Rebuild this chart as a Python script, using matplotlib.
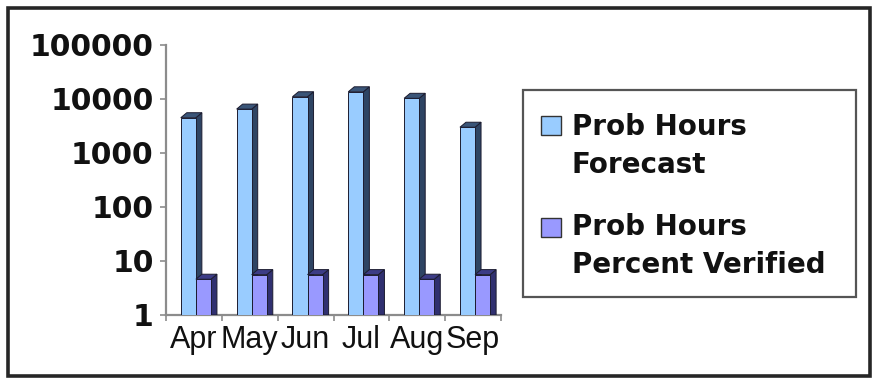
import matplotlib
matplotlib.use("Agg")
import matplotlib.pyplot as plt
import numpy as np
from matplotlib.patches import Polygon, Rectangle
from matplotlib.transforms import IdentityTransform

# ---- data ----
months = ["Apr", "May", "Jun", "Jul", "Aug", "Sep"]
forecast = [4500, 6500, 11000, 13600, 10300, 3000]
verified = [3.6, 4.6, 4.6, 4.6, 3.6, 4.6]
series_labels = ["Prob Hours\nForecast", "Prob Hours\nPercent Verified"]
ytick_values = [1, 10, 100, 1000, 10000, 100000]
ytick_labels = ["1", "10", "100", "1000", "10000", "100000"]

W, H = 874, 381
fig = plt.figure(figsize=(W / 100, H / 100), dpi=100)
fig.patch.set_facecolor("white")

# outer frame
fig.add_artist(Rectangle((8 / W, 1 - 376 / H), 862 / W, 368 / H,
                         transform=fig.transFigure, fill=False,
                         edgecolor="#262626", linewidth=2.6))

ax = fig.add_axes([166 / W, 1 - 315 / H, 335 / W, 270 / H])
ax.set_yscale("log")
ax.set_ylim(1, 1e5)
ax.set_xlim(0, len(months))
ax.patch.set_alpha(0)

for s in ["top", "right"]:
    ax.spines[s].set_visible(False)
for s in ["left", "bottom"]:
    ax.spines[s].set_color("#8c8c8c")
    ax.spines[s].set_linewidth(1.6)

ax.yaxis.set_major_locator(matplotlib.ticker.FixedLocator(ytick_values))
ax.yaxis.set_minor_locator(matplotlib.ticker.NullLocator())
ax.set_yticklabels(ytick_labels, fontsize=21.5, fontweight="bold",
                   family="DejaVu Sans", color="#111111")
ax.tick_params(axis="y", which="major", length=4, width=1.2,
               color="#8c8c8c", pad=5)

x = np.arange(len(months))
ax.set_xticks(np.arange(len(months) + 1))
ax.set_xticklabels([])
ax.set_xticks(x + 0.5, minor=True)
ax.set_xticklabels(months, minor=True, fontsize=22, family="Liberation Sans",
                   color="#111111")
ax.tick_params(axis="x", which="major", length=4, width=1.2,
               color="#8c8c8c", direction="out")
ax.tick_params(axis="x", which="minor", length=0, pad=7)

bw = 0.27
front_cols = ["#99CCFF", "#9999FF"]
side_cols = ["#2E4463", "#303070"]
top_cols = ["#3A5578", "#3C3C86"]
edge = "#1c1c30"
offs = [0.40, 0.67]

fig.canvas.draw()
dx, dy = 6.0, 5.0
for si, vals in enumerate([forecast, verified]):
    bars = ax.bar(x + offs[si], vals, width=bw, bottom=1, color=front_cols[si],
                  edgecolor=edge, linewidth=0.7, zorder=3 + 2 * si)
    for b in bars:
        (x0, y0), (x1, y1) = ax.transData.transform(
            [(b.get_x(), 1), (b.get_x() + b.get_width(), b.get_y() + b.get_height())])
        side = Polygon([(x1, y0), (x1, y1), (x1 + dx, y1 + dy), (x1 + dx, y0)],
                       closed=True, transform=IdentityTransform(),
                       facecolor=side_cols[si], edgecolor=edge, linewidth=0.7,
                       zorder=2 + 2 * si)
        top = Polygon([(x0, y1), (x1, y1), (x1 + dx, y1 + dy), (x0 + dx, y1 + dy)],
                      closed=True, transform=IdentityTransform(),
                      facecolor=top_cols[si], edgecolor=edge, linewidth=0.7,
                      zorder=2 + 2 * si)
        ax.add_artist(side)
        ax.add_artist(top)

# legend (drawn manually to match layout)
fig.add_artist(Rectangle((523 / W, 1 - 297 / H), 333 / W, 207 / H,
                         transform=fig.transFigure, fill=False,
                         edgecolor="#555555", linewidth=1.6))
entry_top = [135, 235]
marker_cy = [126, 227]
for si, lab in enumerate(series_labels):
    fig.add_artist(Rectangle((541 / W, 1 - (marker_cy[si] + 9.5) / H), 20 / W, 19 / H,
                             transform=fig.transFigure, facecolor=front_cols[si],
                             edgecolor="#333333", linewidth=1.0))
    for j, line in enumerate(lab.split("\n")):
        fig.text(572 / W, 1 - (entry_top[si] + 38 * j) / H, line,
                 fontsize=20, fontweight="bold", family="DejaVu Sans",
                 va="baseline", ha="left", color="#111111")

fig.savefig("out.png", dpi=100)
